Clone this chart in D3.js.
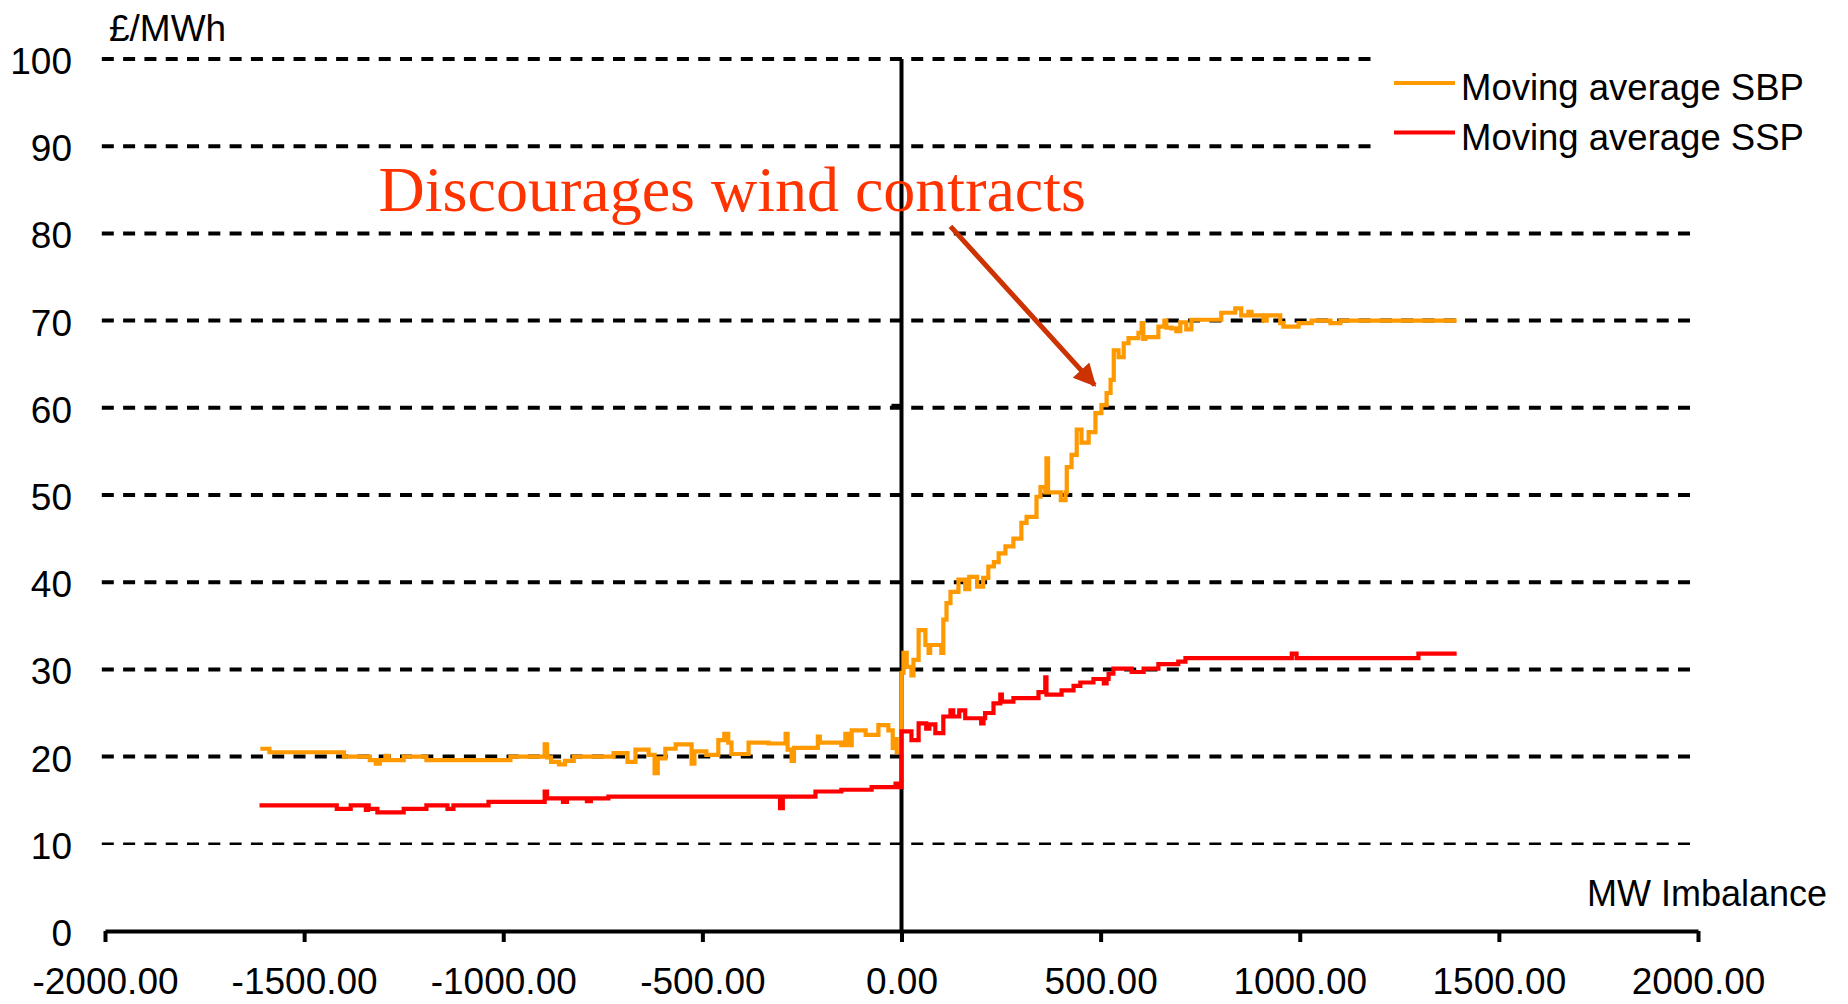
<!DOCTYPE html>
<html>
<head>
<meta charset="utf-8">
<script src="https://cdn.jsdelivr.net/npm/d3@7"></script>
<style>
  body { margin: 0; background: #fff; }
</style>
</head>
<body>
<svg id="chart" width="1848" height="1004"></svg>
<script>
// x ticks (MW imbalance) and y ticks (£/MWh)
const xTicks = [-2000, -1500, -1000, -500, 0, 500, 1000, 1500, 2000];
const yTicks = [0, 10, 20, 30, 40, 50, 60, 70, 80, 90, 100];

// Moving average SBP (system buy price), step points
const sbpMW = [-1610, -1587, -1400, -1335, -1320, -1310, -1296, -1288, -1250, -1193, -982, -896, -890, -880, -860, -845, -823, -723, -688, -668,
  -635, -620, -612, -593, -567, -527, -520, -490, -460, -445, -435, -427, -384, -334, -291, -286, -276, -270, -251, -210,
  -205, -151, -141, -135, -125, -90, -58, -33, -22, -18, -12, 0, 5, 13, 25, 30, 43, 60, 68, 72,
  100, 105, 113, 123, 143, 160, 170, 190, 205, 218, 232, 244, 261, 281, 301, 314, 339, 349, 361, 364,
  368, 400, 412, 415, 427, 440, 452, 470, 487, 502, 515, 525, 533, 545, 558, 570, 595, 603, 607, 612,
  645, 660, 665, 678, 690, 700, 715, 728, 803, 838, 853, 871, 879, 909, 917, 951, 959, 997, 1030, 1077,
  1102, 1394];
const sbp = [20.9, 20.5, 20.0, 19.6, 19.2, 19.6, 20.1, 19.6, 20.0, 19.6, 20.0, 21.4, 19.9, 19.4, 19.1, 19.5, 20.0, 20.4, 19.4, 20.8,
  20.2, 18.1, 19.8, 20.9, 21.4, 19.2, 20.6, 20.2, 21.9, 22.6, 21.6, 20.3, 21.6, 21.5, 22.6, 20.8, 19.5, 21.0, 21.0, 22.3,
  21.6, 21.3, 22.6, 21.3, 23.0, 22.5, 23.6, 23.0, 21.0, 22.0, 20.5, 29.6, 31.9, 30.3, 29.3, 31.1, 34.5, 32.8, 31.9, 32.8,
  31.9, 35.7, 37.6, 38.9, 40.3, 39.2, 40.6, 39.5, 40.5, 41.8, 42.3, 43.3, 44.1, 45.0, 46.8, 47.5, 49.8, 50.9, 50.3, 54.2,
  50.3, 49.4, 50.3, 53.2, 54.6, 57.5, 56.0, 57.2, 59.4, 60.3, 61.7, 63.2, 66.6, 65.8, 67.4, 68.0, 68.6, 69.7, 67.9, 68.1,
  69.3, 70.0, 69.2, 69.1, 68.8, 69.8, 69.0, 70.1, 70.9, 71.4, 70.6, 71.0, 70.6, 70.0, 70.6, 69.7, 69.3, 69.7, 70.0, 69.7,
  70.0, 70.0];

// Moving average SSP (system sell price), step points
const sspMW = [-1612, -1418, -1383, -1345, -1340, -1338, -1316, -1250, -1193, -1140, -1125, -1037, -896, -890, -850, -840, -790, -780, -736, -615,
  -305, -298, -216, -151, -75, -15, -5, 0, 25, 43, 62, 70, 85, 105, 123, 130, 145, 160, 200, 206,
  210, 231, 248, 252, 281, 344, 361, 364, 402, 432, 449, 482, 508, 515, 520, 532, 578, 608, 645, 695,
  713, 980, 992, 1298, 1394];
const ssp = [14.4, 14.0, 14.4, 13.9, 14.4, 14.0, 13.6, 14.0, 14.4, 14.0, 14.4, 14.8, 16.0, 15.2, 14.8, 15.2, 14.9, 15.2, 15.4, 15.4,
  14.1, 15.4, 16.0, 16.2, 16.5, 16.9, 16.5, 22.9, 21.9, 23.8, 23.2, 23.7, 22.7, 24.6, 25.3, 24.6, 25.3, 24.4, 23.8, 24.4,
  25.0, 26.1, 27.1, 26.3, 26.7, 27.4, 29.1, 27.1, 27.6, 28.1, 28.5, 28.9, 28.4, 28.9, 29.5, 30.1, 29.7, 30.1, 30.6, 30.9,
  31.3, 31.8, 31.3, 31.8, 31.8];

const seriesNames = ["Moving average SBP", "Moving average SSP"];
const seriesColors = ["#ff9900", "#ff0000"];

const sans = "'Liberation Sans', Arial, sans-serif";
const serif = "'Liberation Serif', 'Times New Roman', serif";

const svg = d3.select("#chart").style("font-family", sans);
svg.append("rect").attr("width", 1848).attr("height", 1004).attr("fill", "#fff");

const x = d3.scaleLinear().domain([-2000, 2000]).range([105, 1698]);
const y = d3.scaleLinear().domain([0, 100]).range([931, 59]);

// dashed gridlines (top two stop short of the legend)
svg.append("g")
  .selectAll("line")
  .data(yTicks.filter(d => d > 0))
  .join("line")
  .attr("x1", x(-2008))
  .attr("x2", d => d >= 90 ? x(1200) : x(1995))
  .attr("y1", d => y(d))
  .attr("y2", d => y(d))
  .attr("stroke", "#000")
  .attr("stroke-width", d => d === 10 ? 2.5 : 4)
  .attr("stroke-dasharray", "12,9.3");

// y tick labels
svg.append("g")
  .selectAll("text")
  .data(yTicks)
  .join("text")
  .attr("x", 72)
  .attr("y", d => y(d) + 15)
  .attr("text-anchor", "end")
  .attr("font-size", 37)
  .text(d => d);

// x axis
const xAxis = svg.append("g")
  .attr("transform", `translate(0,${y(0)})`)
  .call(d3.axisBottom(x).tickValues(xTicks).tickSize(11).tickSizeOuter(0).tickFormat(d => d.toFixed(2)));
xAxis.select(".domain").attr("stroke", "#000").attr("stroke-width", 4);
xAxis.selectAll(".tick line").attr("stroke", "#000").attr("stroke-width", 4);
xAxis.selectAll(".tick text")
  .attr("y", 63).attr("dy", null)
  .attr("font-size", 37)
  .attr("font-family", sans)
  .attr("fill", "#000");

// vertical axis at 0 MW
svg.append("line")
  .attr("x1", x(0)).attr("x2", x(0))
  .attr("y1", y(0)).attr("y2", y(100))
  .attr("stroke", "#000").attr("stroke-width", 4);
svg.append("line")
  .attr("x1", x(0) - 10).attr("x2", x(0))
  .attr("y1", y(60) - 2).attr("y2", y(60) - 2)
  .attr("stroke", "#000").attr("stroke-width", 4);

// series lines
const line = d3.line().curve(d3.curveStepAfter).x(d => x(d[0])).y(d => y(d[1]));
const seriesData = [
  sbpMW.map((m, i) => [m, sbp[i]]),
  sspMW.map((m, i) => [m, ssp[i]])
];
svg.append("g")
  .selectAll("path")
  .data(seriesData)
  .join("path")
  .attr("d", line)
  .attr("fill", "none")
  .attr("stroke", (d, i) => seriesColors[i])
  .attr("stroke-width", 4.2);

// axis titles
svg.append("text").attr("x", 109).attr("y", 41).attr("font-size", 37).text("£/MWh");
svg.append("text").attr("x", 1827).attr("y", 906).attr("text-anchor", "end").attr("font-size", 36).text("MW Imbalance");

// legend
const legend = svg.append("g")
  .selectAll("g")
  .data(seriesNames)
  .join("g")
  .attr("transform", (d, i) => `translate(1394,${83 + i * 49.5})`);
legend.append("line")
  .attr("x1", 0).attr("x2", 61)
  .attr("stroke", (d, i) => seriesColors[i])
  .attr("stroke-width", 4);
legend.append("text")
  .attr("x", 67).attr("y", 17)
  .attr("font-size", 36.5)
  .text(d => d);

// annotation
svg.append("text")
  .attr("x", x(-1313)).attr("y", y(82.6))
  .style("font-family", serif)
  .attr("font-size", 64)
  .attr("fill", "#ff3300")
  .text("Discourages wind contracts");

svg.append("defs").append("marker")
  .attr("id", "arrow")
  .attr("viewBox", "0 0 10 10")
  .attr("refX", 9).attr("refY", 5)
  .attr("markerWidth", 5).attr("markerHeight", 4.5)
  .attr("orient", "auto")
  .attr("markerUnits", "strokeWidth")
  .append("path")
  .attr("d", "M0,0 L10,5 L0,10 Z")
  .attr("fill", "#cc3300");
svg.append("line")
  .attr("x1", x(123)).attr("y1", y(80.8))
  .attr("x2", x(485)).attr("y2", y(62.6))
  .attr("stroke", "#cc3300")
  .attr("stroke-width", 5)
  .attr("marker-end", "url(#arrow)");
</script>
</body>
</html>
